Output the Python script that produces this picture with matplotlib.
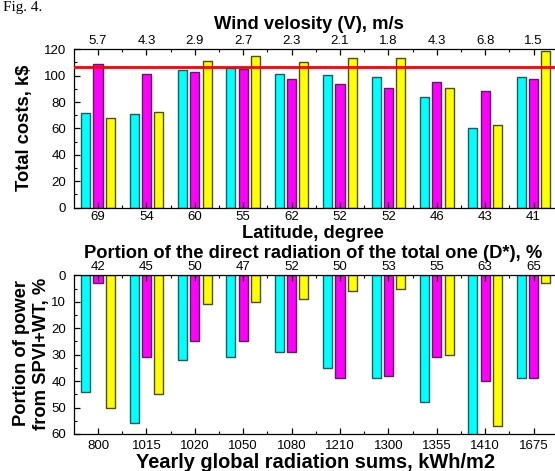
import matplotlib
matplotlib.use("Agg")
import matplotlib.pyplot as plt
import numpy as np
from matplotlib.ticker import MultipleLocator, FixedLocator

plt.rcParams['font.family'] = ['Liberation Sans', 'DejaVu Sans']

# ---------------- data ----------------
latitude = ['69', '54', '60', '55', '62', '52', '52', '46', '43', '41']
wind = ['5.7', '4.3', '2.9', '2.7', '2.3', '2.1', '1.8', '4.3', '6.8', '1.5']
cost_cyan = [72, 71, 104.5, 106, 101.5, 100.8, 99, 83.5, 60, 99]
cost_magenta = [108.5, 101.5, 102.5, 105, 97.3, 93.8, 90.8, 95.3, 88, 97.8]
cost_yellow = [68, 72.3, 111.4, 115.2, 110.5, 113.5, 113.5, 90.8, 62.3, 118.3]
cost_limit = 106.5

radiation = ['800', '1015', '1020', '1050', '1080', '1210', '1300', '1355', '1410', '1675']
direct = ['42', '45', '50', '47', '52', '50', '53', '55', '63', '65']
share_cyan = [44, 56, 32, 31, 29, 35, 39, 48, 62, 39]
share_magenta = [3, 31, 25, 25, 29, 39, 38, 31, 40, 39]
share_yellow = [50, 45, 11, 10, 9, 6, 5, 30, 57, 3]

# ---------------- figure ----------------
W, H = 555, 471
fig = plt.figure(figsize=(W / 100, H / 100), dpi=100)

def fx(px):
    return px / W

def fy(py):
    return 1 - py / H

left_px, right_px = 73.8, 557.8
ax1 = fig.add_axes([fx(left_px), fy(207.7), fx(right_px - left_px), (207.7 - 49.2) / H])
ax2 = fig.add_axes([fx(left_px), fy(434.0), fx(right_px - left_px), (434.0 - 275.3) / H])

x = np.arange(len(latitude))
bw = 0.186
off = 0.254
face = ['#00FFFF', '#FF00FF', '#FFFF00']
edge = ['#1d5c5c', '#5c1d5c', '#4d4d14']

tick_fs = 9.5
lab_fs = 13.2

def style_common(ax, ax_top, top_labels, bot_labels, pad_top, pad_bot):
    ax.set_xlim(-0.5, 9.5)
    ax.set_xticks(x)
    ax.set_xticklabels(bot_labels, fontsize=tick_fs)
    ax.xaxis.set_minor_locator(FixedLocator(x[:-1] + 0.5))
    ax.tick_params(axis='x', which='major', direction='in', length=4, width=0.9,
                   pad=pad_bot, top=False)
    ax.tick_params(axis='x', which='minor', direction='in', length=2, width=0.8, top=False)
    ax.tick_params(axis='y', which='major', direction='in', length=4, width=0.9,
                   pad=5.5, labelsize=tick_fs, right=False)
    ax.tick_params(axis='y', which='minor', direction='in', length=2.5, width=0.8, right=False)
    ax.spines['right'].set_visible(False)
    for s in ['left', 'bottom', 'top']:
        ax.spines[s].set_linewidth(0.9)
    ax_top.set_xlim(-0.5, 9.5)
    ax_top.set_xticks(x)
    ax_top.set_xticklabels(top_labels, fontsize=tick_fs)
    ax_top.xaxis.set_minor_locator(FixedLocator(x[:-1] + 0.5))
    ax_top.tick_params(axis='x', which='major', direction='in', length=4, width=0.9, pad=pad_top)
    ax_top.tick_params(axis='x', which='minor', direction='in', length=2, width=0.8)
    ax_top.tick_params(axis='y', which='both', left=False, right=False, labelleft=False, labelright=False)
    for s in ax_top.spines.values():
        s.set_visible(False)

# ----- top panel -----
for vals, dx, fc, ec in zip([cost_cyan, cost_magenta, cost_yellow], [-off, 0, off], face, edge):
    ax1.bar(x + dx, vals, width=bw, color=fc, edgecolor=ec, linewidth=1.0, zorder=1)
ax1.axhline(cost_limit, color='#FF0000', linewidth=2.0, zorder=3)
ax1.set_ylim(0, 120)
ax1.yaxis.set_major_locator(MultipleLocator(20))
ax1.yaxis.set_minor_locator(MultipleLocator(10))
ax1t = ax1.twiny()
style_common(ax1, ax1t, wind, latitude, pad_top=1.5, pad_bot=2.5)

# ----- bottom panel -----
for vals, dx, fc, ec in zip([share_cyan, share_magenta, share_yellow], [-off, 0, off], face, edge):
    ax2.bar(x + dx, vals, width=bw, color=fc, edgecolor=ec, linewidth=1.0, zorder=1)
ax2.set_ylim(60, 0)
ax2.yaxis.set_major_locator(MultipleLocator(10))
ax2.yaxis.set_minor_locator(MultipleLocator(5))
ax2t = ax2.twiny()
style_common(ax2, ax2t, direct, radiation, pad_top=1.5, pad_bot=4.5)

# ----- labels -----
cx = fx(313)
bold = dict(fontsize=lab_fs, fontweight='bold', ha='center', va='baseline')
fig.text(fx(309), fy(29.3), 'Wind velosity (V), m/s', **bold)
fig.text(cx, fy(238.5), 'Latitude, degree', **bold)
fig.text(fx(313.5), fy(258.3), 'Portion of the direct radiation of the total one (D*), %', **bold)
fig.text(fx(316), fy(468.0), 'Yearly global radiation sums, kWh/m2', fontsize=14.4,
         fontweight='bold', ha='center', va='baseline')
fig.text(fx(25.0), fy(127.5), 'Total costs, k$', fontsize=lab_fs, fontweight='bold',
         rotation=90, ha='center', va='center')
fig.text(fx(31.5), fy(353.5), 'Portion of power\nfrom SPVI+WT, %', fontsize=lab_fs,
         fontweight='bold', rotation=90, ha='center', va='center', linespacing=1.3)
fig.text(fx(3), fy(11.5), 'Fig. 4.', fontsize=11, family=['Liberation Serif', 'DejaVu Serif'],
         ha='left', va='baseline')

fig.savefig('out.png', dpi=100)
